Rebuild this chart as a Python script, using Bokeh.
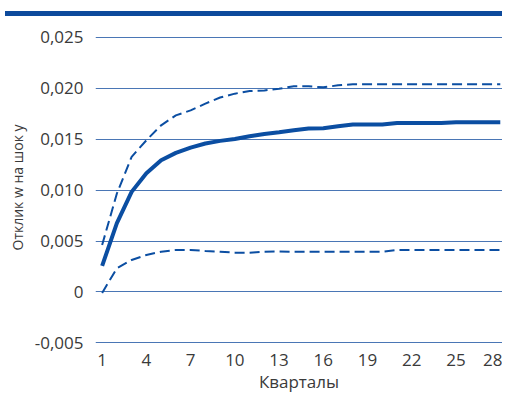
from bokeh.plotting import figure
from bokeh.models import FixedTicker, Range1d, Div
from bokeh.layouts import column
from bokeh.embed import file_html
from bokeh.resources import INLINE

quarters = list(range(1, 29))
response = [0.00255, 0.00676, 0.00983, 0.01167, 0.01294, 0.01366, 0.01418, 0.01458,
            0.01484, 0.01503, 0.01530, 0.01552, 0.01569, 0.01588, 0.01605, 0.01608,
            0.01627, 0.01644, 0.01644, 0.01645, 0.01660, 0.01660, 0.01660, 0.01660,
            0.01667, 0.01667, 0.01667, 0.01667]
upper = [0.00461, 0.00967, 0.01327, 0.01490, 0.01637, 0.01735, 0.01784, 0.01850,
         0.01910, 0.01948, 0.01974, 0.01980, 0.01997, 0.02020, 0.02020, 0.02010,
         0.02030, 0.02040, 0.02040, 0.02040, 0.02040, 0.02040, 0.02040, 0.02040,
         0.02040, 0.02040, 0.02040, 0.02040]
lower = [-0.0001, 0.00232, 0.00314, 0.00363, 0.00395, 0.00412, 0.00412, 0.00402,
         0.00395, 0.00386, 0.00386, 0.00395, 0.00398, 0.00395, 0.00395, 0.00395,
         0.00395, 0.00395, 0.00395, 0.00395, 0.00412, 0.00412, 0.00412, 0.00412,
         0.00412, 0.00412, 0.00412, 0.00412]
x_ticks = [1, 4, 7, 10, 13, 16, 19, 22, 25, 28]
y_ticks = [-0.005, 0.0, 0.005, 0.010, 0.015, 0.020, 0.025]
y_tick_labels = ["-0,005", "0", "0,005", "0,010", "0,015", "0,020", "0,025"]
x_title = "Кварталы"
y_title = "Отклик w на шок y"

BLUE = "#0b4ea2"
GRID = "#4a76b5"
TEXT = "#3a3a3a"
FONT = "Open Sans"

x0, x1 = 0.55, 28.15
y0, y1 = -0.005363, 0.025882

bar = Div(text="", width=497, height=5, margin=(11, 0, 0, 5),
          styles={"background-color": "#0d4a9c"})

p = figure(width=502, height=379, output_backend="svg", toolbar_location=None,
           x_range=Range1d(x0, x1), y_range=Range1d(y0, y1),
           min_border_left=95, min_border_right=0, min_border_top=12, min_border_bottom=0)
p.outline_line_color = None
p.xgrid.grid_line_color = None
p.ygrid.grid_line_color = GRID
p.ygrid.grid_line_width = 1
p.border_fill_color = "white"

p.xaxis.ticker = FixedTicker(ticks=x_ticks)
p.yaxis.ticker = FixedTicker(ticks=y_ticks)
p.yaxis.major_label_overrides = {t: l for t, l in zip(y_ticks, y_tick_labels)}
for ax in (p.xaxis, p.yaxis):
    ax.axis_line_color = None
    ax.major_tick_line_color = None
    ax.minor_tick_line_color = None
    ax.major_tick_out = 0
    ax.major_tick_in = 0
    ax.major_label_text_font = FONT
    ax.major_label_text_font_size = "17px"
    ax.major_label_text_color = TEXT
    ax.axis_label_text_font = FONT
    ax.axis_label_text_font_style = "normal"
    ax.axis_label_text_color = TEXT
p.xaxis.major_label_standoff = 7
p.xaxis.axis_label = x_title
p.xaxis.axis_label_text_font_size = "17px"
p.xaxis.axis_label_standoff = 1
p.yaxis.major_label_standoff = 12
p.yaxis.axis_label = y_title
p.yaxis.axis_label_text_font_size = "14px"
p.yaxis.axis_label_standoff = 5

p.line(quarters, upper, line_color=BLUE, line_width=2, line_dash="10 5")
p.line(quarters, lower, line_color=BLUE, line_width=2, line_dash="10 5")
p.line(quarters, response, line_color=BLUE, line_width=4)

layout = column(bar, p, spacing=0)
open("out.html", "w").write(file_html(layout, INLINE))
